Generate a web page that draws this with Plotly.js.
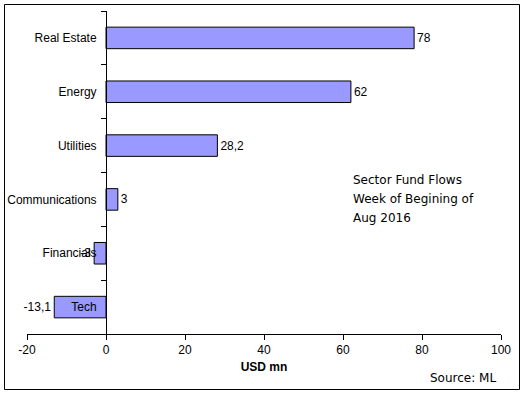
<!DOCTYPE html>
<html>
<head>
<meta charset="utf-8">
<script src="https://cdn.plot.ly/plotly-3.0.1.min.js"></script>
<style>
html,body{margin:0;padding:0;background:#fff;}
#chart{width:525px;height:394px;}
</style>
</head>
<body>
<div id="chart"></div>
<script>
const categories = ['Tech', 'Financials', 'Communications', 'Utilities', 'Energy', 'Real Estate'];
const flows = [-13.1, -3, 3, 28.2, 62, 78];
const xTicks = [-20, 0, 20, 40, 60, 80, 100];
const noteLines = ['Sector Fund Flows', 'Week of Begining of', 'Aug 2016'];
const sourceText = 'Source: ML';
const axisTitle = 'USD mn';

const labels = flows.map(v => String(v).replace('.', ','));

const W = 525, H = 394;
const L = 27, R = 24, T = 11, B = 60;
const pw = W - L - R, ph = H - T - B;
const px = x => (x - L) / pw;
const py = y => (H - B - y) / ph;

const trace = {
  type: 'bar',
  orientation: 'h',
  y: categories,
  x: flows,
  text: labels,
  textposition: 'outside',
  constraintext: 'none',
  cliponaxis: false,
  textfont: {family: 'Liberation Sans, Arial, sans-serif', size: 12, color: '#000'},
  marker: {color: '#9999FF', line: {color: '#000', width: 1}},
  width: 0.4,
  hoverinfo: 'skip'
};

const annotations = noteLines.map((t, i) => ({
  text: t, xref: 'paper', yref: 'paper',
  x: px(351), y: py(180 + i * 19),
  xanchor: 'left', yanchor: 'middle', showarrow: false,
  font: {family: 'DejaVu Sans, Verdana, sans-serif', size: 12, color: '#000'}
}));
annotations.push({
  text: sourceText, xref: 'paper', yref: 'paper',
  x: px(498), y: py(378), xanchor: 'right', yanchor: 'middle', showarrow: false,
  font: {family: 'DejaVu Sans, Verdana, sans-serif', size: 12, color: '#000'}
});

const layout = {
  width: W, height: H,
  margin: {l: L, r: R, t: T, b: B, pad: 0},
  paper_bgcolor: '#fff', plot_bgcolor: '#fff',
  showlegend: false,
  font: {family: 'Liberation Sans, Arial, sans-serif', size: 12, color: '#000'},
  xaxis: {
    range: [-20, 100], tickvals: xTicks, ticktext: xTicks.map(String),
    showgrid: false, zeroline: false, showline: true, linecolor: '#000', linewidth: 1,
    ticks: 'outside', ticklen: 5, tickcolor: '#000',
    tickfont: {size: 12, color: '#000'},
    title: {text: axisTitle, font: {size: 12, color: '#000', weight: 'bold'}, standoff: 6},
    fixedrange: true
  },
  yaxis: {
    type: 'category', range: [-0.5, 5.5],
    anchor: 'free', position: px(106),
    showgrid: false, zeroline: false, showline: true, linecolor: '#000', linewidth: 1,
    ticks: 'outside', ticklen: 5, tickcolor: '#000', tickson: 'boundaries',
    ticklabelstandoff: 7,
    tickfont: {size: 12, color: '#000'},
    fixedrange: true
  },
  annotations: annotations,
  shapes: [{
    type: 'rect', xref: 'paper', yref: 'paper',
    x0: px(4.5), x1: px(519.5), y0: py(389.5), y1: py(4.5),
    line: {color: '#000', width: 1}, fillcolor: 'rgba(0,0,0,0)', layer: 'above'
  }]
};

Plotly.newPlot('chart', [trace], layout, {displayModeBar: false, staticPlot: true});
</script>
</body>
</html>
